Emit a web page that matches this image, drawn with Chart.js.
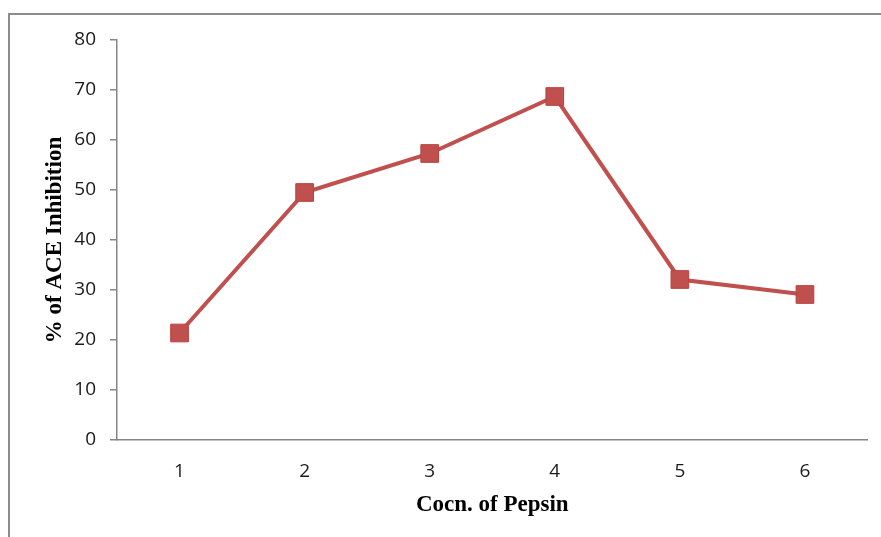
<!DOCTYPE html>
<html>
<head>
<meta charset="utf-8">
<script src="https://cdn.jsdelivr.net/npm/chart.js@4/dist/chart.umd.min.js"></script>
<style>
  html, body { margin: 0; padding: 0; background: #fff; }
  #wrap { width: 881px; height: 537px; position: relative; }
</style>
</head>
<body>
<div id="wrap"><canvas id="chart"></canvas></div>
<script>
// --- data ---
const concLabels = ['1', '2', '3', '4', '5', '6'];
const inhibition = [21.4, 49.5, 57.3, 68.7, 32.1, 29.1];
const yTicks = [0, 10, 20, 30, 40, 50, 60, 70, 80];

const xTitle = 'Cocn. of Pepsin';
const yTitle = '% of ACE Inhibition';

const red = '#c0504d';
const axisGrey = '#868686';
const tickFont = { family: '"Open Sans", Carlito, sans-serif', size: 19 };
const titleFont = { family: '"Liberation Serif", "Times New Roman", serif', size: 23, weight: 'bold' };

// outer frame of the picture (left and top edges only visible)
const framePlugin = {
    id: 'frame',
    beforeDraw(chart) {
        const ctx = chart.ctx;
        ctx.save();
        ctx.strokeStyle = '#8c8c8c';
        ctx.lineWidth = 2;
        ctx.beginPath();
        ctx.moveTo(9, 537);
        ctx.lineTo(9, 14);
        ctx.lineTo(881, 14);
        ctx.stroke();
        ctx.restore();
    }
};

const ctx = document.getElementById('chart').getContext('2d');
new Chart(ctx, {
    type: 'line',
    data: {
        labels: concLabels,
        datasets: [{
            label: yTitle,
            data: inhibition,
            borderColor: red,
            backgroundColor: red,
            borderWidth: 4,
            tension: 0,
            pointStyle: 'rect',
            pointRadius: 12.5,
            pointHoverRadius: 12.5,
            pointBorderWidth: 1,
            pointBorderColor: '#b9413e',
            pointBackgroundColor: red
        }]
    },
    options: {
        responsive: true,
        maintainAspectRatio: false,
        animation: false,
        layout: { padding: { left: 0, right: 5, top: 40, bottom: 0 } },
        plugins: {
            legend: { display: false },
            tooltip: { enabled: false }
        },
        scales: {
            x: {
                offset: true,
                grid: { display: true, drawOnChartArea: false, drawTicks: false, color: axisGrey },
                border: { display: true, color: axisGrey, width: 1.5 },
                ticks: { padding: 20, color: '#1a1a1a', font: tickFont },
                title: {
                    display: true,
                    text: xTitle,
                    color: '#000',
                    font: titleFont,
                    padding: { top: 0, bottom: 18 }
                },
                afterFit(scale) { scale.height = 97; }
            },
            y: {
                min: 0,
                max: 80,
                afterBuildTicks(scale) { scale.ticks = yTicks.map(v => ({ value: v })); },
                grid: { drawOnChartArea: false, drawTicks: true, tickLength: 7, color: axisGrey, lineWidth: 1.5 },
                border: { display: true, color: axisGrey, width: 1.5 },
                ticks: { padding: 14, color: '#1a1a1a', font: tickFont },
                title: {
                    display: true,
                    text: yTitle,
                    color: '#000',
                    font: titleFont,
                    padding: { top: 41, bottom: 0 }
                },
                afterFit(scale) { scale.width = 117; }
            }
        }
    },
    plugins: [framePlugin]
});
</script>
</body>
</html>
